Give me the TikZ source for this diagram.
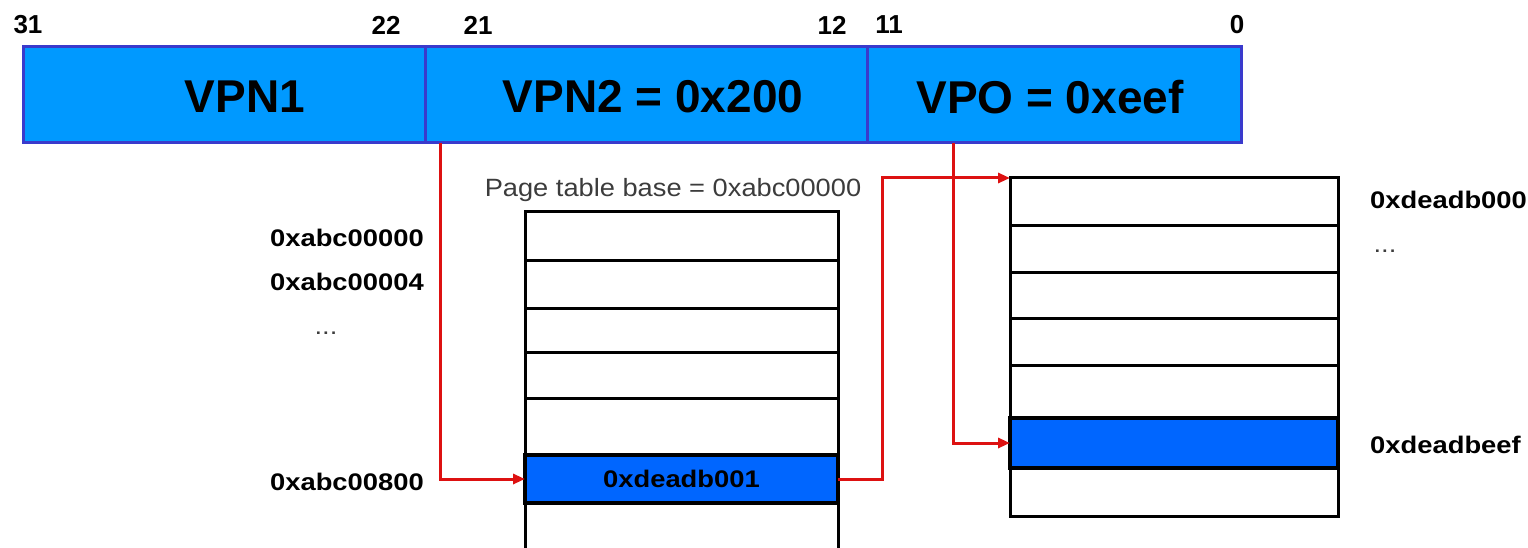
\documentclass[tikz,border=0pt]{standalone}
\usepackage{fontspec}
\setmainfont{Liberation Sans}
\usetikzlibrary{arrows.meta}
\definecolor{barfill}{HTML}{0099FF}
\definecolor{barline}{HTML}{3A3ACC}
\definecolor{hifill}{HTML}{0066FF}
\definecolor{redl}{HTML}{DD1111}
\definecolor{captxt}{HTML}{3C3C3C}
\newcommand{\wide}[1]{\scalebox{1.14}[1]{#1}}
\tikzset{
  bar/.style={draw=barline, fill=barfill, line width=3pt, rectangle, inner sep=0pt, outer sep=0pt, anchor=north west, minimum height=96pt},
  cell/.style={draw=black, fill=white, line width=3pt, rectangle, inner sep=0pt, outer sep=0pt, anchor=north west},
  hicell/.style={cell, fill=hifill, line width=4pt},
  bigtxt/.style={font=\fontsize{46}{50}\selectfont\bfseries, inner sep=0pt},
  bittxt/.style={font=\fontsize{26}{30}\selectfont\bfseries, inner sep=0pt},
  addr/.style={font=\fontsize{24}{28}\selectfont\bfseries, inner sep=0pt},
  dotstxt/.style={font=\fontsize{24}{28}\selectfont, text=captxt, inner sep=0pt},
  captiontxt/.style={font=\fontsize{25}{29}\selectfont, text=captxt, inner sep=0pt},
  redline/.style={draw=redl, line width=3pt, -{Triangle[length=12pt,width=10pt]}}
}
\begin{document}
\begin{tikzpicture}[x=1pt,y=-1pt]
\useasboundingbox (0,0) rectangle (1528,548);
\clip (0,0) rectangle (1528,548);
% top bar
\node[bar, minimum width=402pt] (vpn1) at (23,47) {};
\node[bar, minimum width=442pt] (vpn2) at (425,47) {};
\node[bar, minimum width=374pt] (vpo) at (867,47) {};
\node[bigtxt] (t1) at (245,97) {VPN1};
\node[bigtxt] (t2) at (653,97) {VPN2 = 0x200};
\node[bigtxt] (t3) at (1050,97) {VPO = 0xeef};
% bit numbers
\node[bittxt] (b31) at (28,25) {31};
\node[bittxt] (b22) at (386,25) {22};
\node[bittxt] (b21) at (478,25) {21};
\node[bittxt] (b12) at (832,25) {12};
\node[bittxt] (b11) at (889,25) {11};
\node[bittxt] (b0) at (1237,25) {0};
% page table
\node[captiontxt] (ptb) at (673,190) {\scalebox{1.09}[1]{Page table base = 0xabc00000}};
\node[cell, minimum width=313pt, minimum height=48pt] (p1) at (525,212) {};
\node[cell, minimum width=313pt, minimum height=48pt] (p2) at (525,260) {};
\node[cell, minimum width=313pt, minimum height=44pt] (p3) at (525,308) {};
\node[cell, minimum width=313pt, minimum height=46pt] (p4) at (525,352) {};
\node[cell, minimum width=313pt, minimum height=57pt] (p5) at (525,398) {};
\node[cell, minimum width=313pt, minimum height=48pt] (p7) at (525,503) {};
\node[hicell, minimum width=313pt, minimum height=48pt, font=\fontsize{24}{28}\selectfont\bfseries] (pte) at (525,455) {\wide{0xdeadb001}};
% left addresses
\node[addr, anchor=east] (a0) at (424,238) {\wide{0xabc00000}};
\node[addr, anchor=east] (a4) at (424,282) {\wide{0xabc00004}};
\node[dotstxt] (adots) at (326,333) {\wide{...}};
\node[addr, anchor=east] (a800) at (424,482) {\wide{0xabc00800}};
% data page
\node[cell, minimum width=328pt, minimum height=47pt] (d1) at (1010,178) {};
\node[cell, minimum width=328pt, minimum height=47pt] (d2) at (1010,225) {};
\node[cell, minimum width=328pt, minimum height=46pt] (d3) at (1010,272) {};
\node[cell, minimum width=328pt, minimum height=47pt] (d4) at (1010,318) {};
\node[cell, minimum width=328pt, minimum height=53pt] (d5) at (1010,365) {};
\node[cell, minimum width=328pt, minimum height=48pt] (d7) at (1010,468) {};
\node[hicell, minimum width=328pt, minimum height=50pt] (dbeef) at (1010,418) {};
% right addresses
\node[addr, anchor=west] (r0) at (1370,200) {\wide{0xdeadb000}};
\node[dotstxt] (rdots) at (1385,251) {\wide{...}};
\node[addr, anchor=west] (rbeef) at (1370,445) {\wide{0xdeadbeef}};
% connectors
\draw[redline] ([xshift=15pt]vpn2.south west) |- (pte.west);
\draw[redline] (pte.east) -- ([xshift=44pt]pte.east) |- (d1.north west);
\draw[redline] ([xshift=86pt]vpo.south west) |- (dbeef.west);
\end{tikzpicture}
\end{document}
